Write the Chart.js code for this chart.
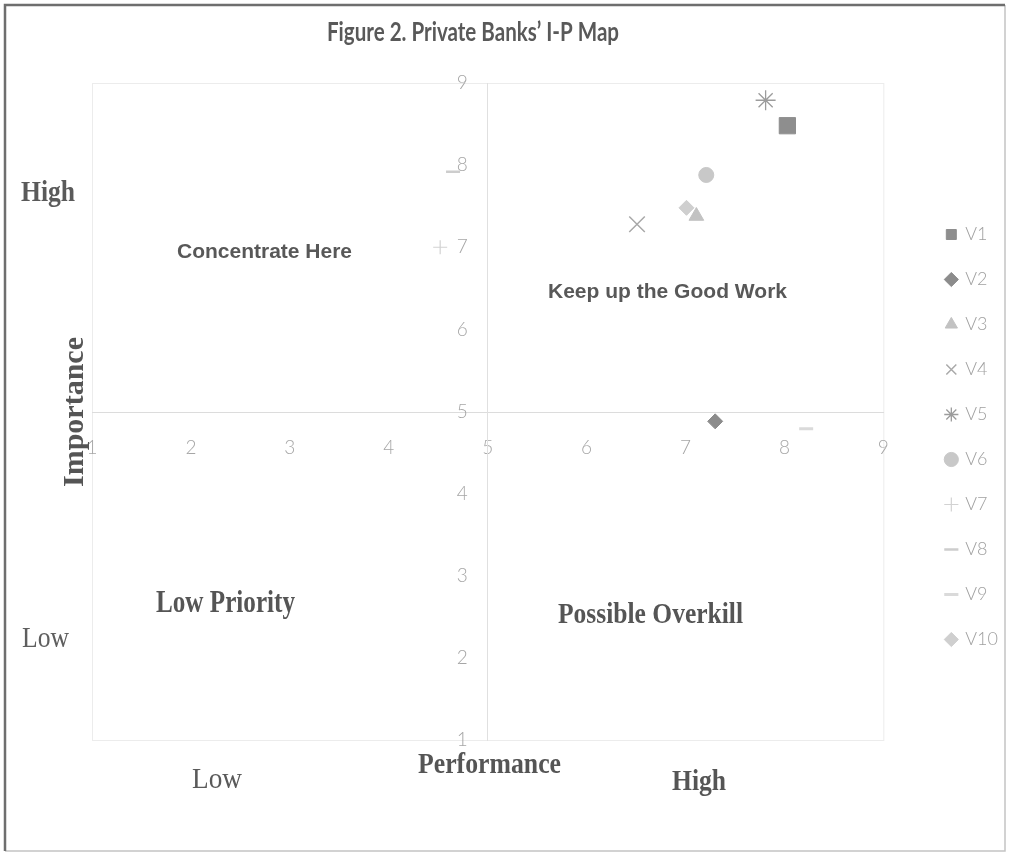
<!DOCTYPE html>
<html>
<head>
<meta charset="utf-8">
<script src="https://cdn.jsdelivr.net/npm/chart.js@4.4.1/dist/chart.umd.min.js"></script>
<style>
  html, body { margin: 0; padding: 0; background: #ffffff; }
  #wrap { width: 1009px; height: 856px; position: relative; }
  canvas { display: block; }
</style>
</head>
<body>
<div id="wrap"><canvas id="ipmap" width="1009" height="856"></canvas></div>
<script>
// Series names, performance (x) and importance (y) scores
const seriesNames = ['V1', 'V2', 'V3', 'V4', 'V5', 'V6', 'V7', 'V8', 'V9', 'V10'];
const performance = [8.03, 7.30, 7.11, 6.51, 7.81, 7.21, 4.52, 4.65, 8.22, 7.01];
const importance  = [8.48, 4.88, 7.38, 7.28, 8.79, 7.88, 7.00, 7.92, 4.79, 7.48];
const axisTicks = [1, 2, 3, 4, 5, 6, 7, 8, 9];

// Marker appearance per series
const markerStyles = ['rect', 'rectRot', 'triangle', 'crossRot', 'star', 'circle', 'cross', 'line', 'line', 'rectRot'];
const markerFills  = ['#8e8e8e', '#8c8c8c', '#c2c2c2', '#a9a9a9', '#9c9c9c', '#c8c8c8', '#d2d2d2', '#cdcdcd', '#dadada', '#cfcfcf'];
const markerRadii  = [11.5, 7.5, 8.5, 11, 10, 7.5, 7, 7, 7, 7.5];
const markerLines  = [1, 1, 1, 1.5, 1.3, 1, 1.2, 2.5, 3, 1];

const title = 'Figure 2. Private Banks\u2019 I-P Map';

// Free-standing captions around and inside the quadrants
const captions = [
  { text: 'High', x: 21, y: 201, width: 54, font: 'bold 30px "Liberation Serif"', color: '#5a5a5a' },
  { text: 'Low', x: 22, y: 647, width: 47, font: '30px "Liberation Serif"', color: '#5e5e5e' },
  { text: 'Importance', x: 83, y: 487, width: 150, font: 'bold 30px "Liberation Serif"', color: '#555555', rotate: -Math.PI / 2 },
  { text: 'Concentrate Here', x: 177, y: 258, width: 175, font: 'bold 21px "Liberation Sans"', color: '#585858' },
  { text: 'Keep up the Good Work', x: 548, y: 298, width: 239, font: 'bold 21px "Liberation Sans"', color: '#585858' },
  { text: 'Low Priority', x: 156, y: 612, width: 139, font: 'bold 31px "Liberation Serif"', color: '#555555' },
  { text: 'Possible Overkill', x: 558, y: 623, width: 185, font: 'bold 29px "Liberation Serif"', color: '#555555' },
  { text: 'Low', x: 192, y: 788, width: 50, font: '29px "Liberation Serif"', color: '#5a5a5a' },
  { text: 'Performance', x: 418, y: 773, width: 143, font: 'bold 29px "Liberation Serif"', color: '#555555' },
  { text: 'High', x: 672, y: 790, width: 54, font: 'bold 29px "Liberation Serif"', color: '#555555' }
];

function drawFittedText(ctx, item) {
  ctx.save();
  ctx.font = item.font;
  ctx.fillStyle = item.color;
  ctx.textAlign = 'left';
  ctx.textBaseline = 'alphabetic';
  const natural = ctx.measureText(item.text).width;
  ctx.translate(item.x, item.y);
  if (item.rotate) ctx.rotate(item.rotate);
  ctx.scale(item.width / natural, 1);
  ctx.fillText(item.text, 0, 0);
  ctx.restore();
}

// Frame, plot border, title and captions
const decorations = {
  id: 'decorations',
  beforeDraw(chart) {
    const ctx = chart.ctx;
    ctx.save();
    ctx.fillStyle = '#ffffff';
    ctx.fillRect(0, 0, chart.width, chart.height);
    ctx.lineWidth = 1.5;
    ctx.strokeStyle = '#c4c4c4';
    ctx.beginPath();
    ctx.moveTo(1005, 5); ctx.lineTo(1005, 851); ctx.lineTo(5, 851);
    ctx.stroke();
    ctx.lineWidth = 2.5;
    ctx.strokeStyle = '#6e6e6e';
    ctx.beginPath();
    ctx.moveTo(5, 851); ctx.lineTo(5, 5); ctx.lineTo(1005, 5);
    ctx.stroke();
    const a = chart.chartArea;
    ctx.lineWidth = 1;
    ctx.strokeStyle = '#ececec';
    ctx.strokeRect(a.left + 0.5, a.top + 0.5, a.right - a.left, a.bottom - a.top);
    ctx.restore();
  },
  afterDraw(chart) {
    const ctx = chart.ctx;
    drawFittedText(ctx, { text: title, x: 327, y: 41, width: 292, font: 'bold 26px Lato', color: '#595959' });
    captions.forEach(c => drawFittedText(ctx, c));
  }
};

function spacer(position, size) {
  const horizontal = position === 'top' || position === 'bottom';
  return {
    type: 'linear',
    position,
    display: true,
    ticks: { display: false },
    grid: { display: false, drawTicks: false },
    border: { display: false },
    afterFit(scale) {
      if (horizontal) scale.height = size; else scale.width = size;
      scale.paddingLeft = scale.paddingRight = scale.paddingTop = scale.paddingBottom = 0;
    }
  };
}

const tickFont = { family: 'Lato', size: 19, weight: '300' };

const datasets = seriesNames.map((name, i) => ({
  label: name,
  data: [{ x: performance[i], y: importance[i] }],
  pointStyle: markerStyles[i],
  pointRadius: markerRadii[i],
  pointHoverRadius: markerRadii[i],
  backgroundColor: markerFills[i],
  borderColor: markerFills[i],
  borderWidth: markerLines[i],
  showLine: false
}));

new Chart(document.getElementById('ipmap'), {
  type: 'scatter',
  data: { datasets },
  plugins: [decorations],
  options: {
    responsive: false,
    animation: false,
    events: [],
    layout: { padding: { left: 92, top: 18, right: 1, bottom: 0 } },
    scales: {
      x: {
        type: 'linear',
        position: 'center',
        min: 1, max: 9,
        afterBuildTicks(scale) { scale.ticks = axisTicks.map(v => ({ value: v })); },
        ticks: { autoSkip: false, maxRotation: 0, padding: 25, color: '#a6a6a6', font: tickFont },
        grid: { display: false, drawTicks: false },
        border: { display: true, color: '#dcdcdc', width: 1 },
        afterFit(scale) { scale.height = 0; scale.paddingLeft = scale.paddingRight = 0; }
      },
      y: {
        type: 'linear',
        position: 'center',
        min: 1, max: 9,
        afterBuildTicks(scale) { scale.ticks = axisTicks.map(v => ({ value: v })); },
        ticks: { autoSkip: false, padding: 20, color: '#a6a6a6', font: tickFont },
        grid: { display: false, drawTicks: false },
        border: { display: true, color: '#e0e0e0', width: 1 },
        afterFit(scale) { scale.width = 0; scale.paddingTop = scale.paddingBottom = 0; }
      },
      padTop: spacer('top', 65),
      padBottom: spacer('bottom', 116),
      padRight: spacer('right', 36)
    },
    plugins: {
      title: { display: false },
      tooltip: { enabled: false },
      legend: {
        position: 'right',
        align: 'center',
        labels: {
          usePointStyle: true,
          boxWidth: 10,
          boxHeight: 10,
          padding: 27,
          color: '#a0a0a0',
          font: { family: 'Lato', size: 18, weight: '300' }
        }
      }
    }
  }
});
</script>
</body>
</html>
